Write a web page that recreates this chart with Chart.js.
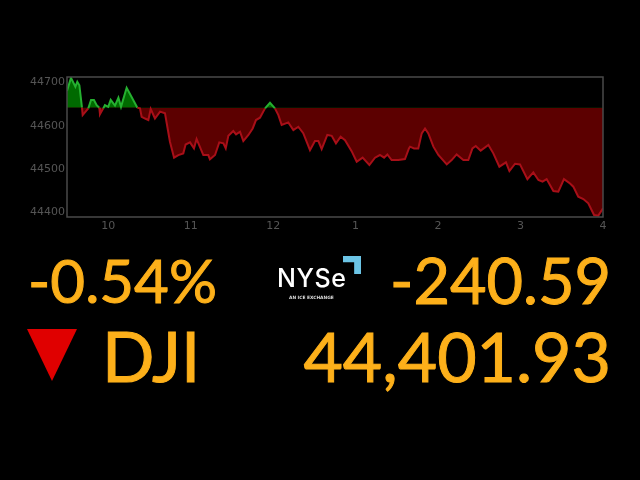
<!DOCTYPE html>
<html lang="en">
<head>
<meta charset="UTF-8">
<title>DJI</title>
<script src="https://cdn.jsdelivr.net/npm/chart.js"></script>
<style>
    html, body { margin: 0; padding: 0; background: #000; overflow: hidden; }
    #wrap { position: relative; width: 640px; height: 480px; }
    canvas { position: absolute; left: 0; top: 0; }
    .big {
        position: absolute;
        font-family: Lato, sans-serif;
        font-weight: 400;
        line-height: 70px;
        color: #fdb01a;
        white-space: nowrap;
        -webkit-text-stroke: 1px #fdb01a;
    }
    #arrow {
        position: absolute; left: 27px; top: 329px; width: 50px; height: 52px;
        background: #e00000;
        clip-path: polygon(0 0, 100% 0, 50% 100%);
    }
    #nyse {
        position: absolute; left: 277px; top: 264px;
        font-family: Inter, sans-serif; font-weight: 500; font-size: 25px; line-height: 28px;
        letter-spacing: 0.6px;
        color: #fff;
    }
    #ice {
        position: absolute; left: 289px; top: 295px;
        font-family: "DejaVu Sans", sans-serif; font-weight: 700; font-size: 4.4px; line-height: 6px;
        color: #ddd;
    }
    #corner { position: absolute; left: 343px; top: 256px; width: 18px; height: 18px;
        background: #6cc5e6;
        clip-path: polygon(0 0, 100% 0, 100% 100%, 62% 100%, 62% 35%, 0 35%);
    }
</style>
</head>
<body>
<div id="wrap">
    <canvas id="chart" width="640" height="480"></canvas>
    <div class="big" id="pct" style="right:423px;top:245px;font-size:60px">-0.54%</div>
    <div class="big" id="chg" style="right:29px;top:245px;font-size:63px">-240.59</div>
    <div class="big" id="sym" style="left:102px;top:321px;font-size:69px">DJI</div>
    <div class="big" id="last" style="right:29px;top:321px;font-size:68px">44,401.93</div>
    <div id="arrow"></div>
    <div id="nyse">NYS<span>e</span></div>
    <div id="ice">AN ICE EXCHANGE</div>
    <div id="corner"></div>
</div>

<script>
// minutes since 9:30 open
const minutes = [
    0, 2.9, 6.1, 7.5, 9, 10.9, 11.4, 15.5, 17.5, 19.6, 21.6, 23.5, 24, 26.4, 27.6, 30, 31.8, 34.9, 37.4, 39.3,
    43.4, 47, 51.2, 53.1, 54.3, 56.8, 59.2, 60.9, 64, 67.7, 71.3, 74.9, 77.9, 81, 84.6, 86.3, 89.5, 92.4, 94.3, 99.2,
    102.8, 104, 107.7, 110.8, 113.8, 115.5, 117.4, 121, 123, 125.9, 128.3, 132, 135.1, 137.5, 140.4, 144.1, 147.7, 151.3, 153.8, 156.2,
    161, 164.7, 168.3, 171.9, 176.8, 180.4, 182.9, 185.3, 189.4, 192.6, 195.7, 199.1, 202.3, 207.1, 210.8, 215.1, 220, 224.1, 227.7, 230.7,
    233.1, 236.2, 241.1, 245.9, 248.8, 249.6, 252.5, 255.6, 258.1, 260.5, 262.9, 266.6, 270.2, 276.3, 279.9, 283.5, 288.4, 292, 295, 297.4,
    301, 306.6, 310.2, 314.6, 319.4, 321.9, 326, 329.6, 335, 339.3, 343, 346, 349, 353.9, 357.5, 361.6, 366, 368.4, 372, 375.7,
    379.3, 383.5, 386.6, 390
];
const prices = [
    44680.5, 44711, 44690.5, 44702, 44694, 44642, 44625, 44640.5, 44660, 44660, 44648, 44642, 44627, 44640.5, 44648, 44644, 44660, 44647, 44665, 44644,
    44688, 44667, 44642, 44640.5, 44621, 44617, 44613.5, 44639, 44617, 44633, 44629, 44563.5, 44526.5, 44532.5, 44536.5, 44557, 44562, 44548, 44569.5, 44532.5,
    44532.5, 44522.6, 44532.7, 44562, 44559.6, 44548, 44577, 44588, 44580.4, 44586.6, 44565, 44578.9, 44594, 44613.5, 44619, 44640.5, 44653.5, 44640.5, 44625, 44602,
    44608, 44590.4, 44598, 44583, 44544, 44565, 44565, 44546.5, 44579, 44577, 44559.6, 44575, 44567, 44541.6, 44517, 44526.5, 44509.5, 44526.5, 44532.7, 44526.5,
    44534, 44521, 44521, 44523.4, 44548, 44552, 44548, 44548, 44582.7, 44594, 44582.7, 44552, 44532.7, 44511, 44521, 44534, 44521, 44521, 44548, 44553.5,
    44542.7, 44555.8, 44536.5, 44505.7, 44515.7, 44495.7, 44512.6, 44511, 44477, 44492.6, 44475, 44471, 44477, 44449.5, 44448, 44477, 44467, 44459.5, 44436.4, 44431,
    44421, 44394, 44392.5, 44409.5
];
const prevClose = 44642;
const yTicks = [44400, 44500, 44600, 44700];
const xTicks = [30, 90, 150, 210, 270, 330, 390];
const xLabels = ['10', '11', '12', '1', '2', '3', '4'];

const tickColor = '#555';
const tickFont = { family: 'DejaVu Sans', size: 11 };

// box round the plot area
const frame = {
    id: 'frame',
    afterDraw(chart) {
        const a = chart.chartArea, c = chart.ctx;
        c.save();
        c.strokeStyle = '#4a4a4a';
        c.lineWidth = 1.5;
        c.strokeRect(a.left, a.top, a.right - a.left, a.bottom - a.top);
        c.restore();
    }
};

new Chart(document.getElementById('chart'), {
    type: 'line',
    data: {
        datasets: [{
            data: minutes.map((m, i) => ({ x: m, y: prices[i] })),
            borderWidth: 2,
            borderColor: '#a80f18',
            pointRadius: 0,
            tension: 0,
            fill: { target: { value: prevClose }, above: '#006a00', below: '#5c0000' },
            segment: {
                borderColor: s => (s.p0.parsed.y + s.p1.parsed.y) / 2 >= prevClose ? '#25b030' : '#a80f18'
            }
        }]
    },
    plugins: [frame],
    options: {
        responsive: false,
        animation: false,
        layout: { padding: { top: 77, right: 37, bottom: 240, left: 0 } },
        plugins: { legend: { display: false }, tooltip: { enabled: false } },
        scales: {
            x: {
                type: 'linear',
                min: 0,
                max: 390,
                grid: { display: false, drawTicks: false },
                border: { display: false },
                afterFit(s) { s.height = 23; },
                afterBuildTicks(s) { s.ticks = xTicks.map(v => ({ value: v })); },
                ticks: {
                    color: tickColor,
                    font: tickFont,
                    maxRotation: 0,
                    autoSkip: false,
                    padding: 3,
                    callback: v => xLabels[xTicks.indexOf(v)]
                }
            },
            y: {
                min: 44389.4,
                max: 44713,
                grid: { display: false, drawTicks: false },
                border: { display: false },
                afterFit(s) { s.width = 67; },
                afterBuildTicks(s) { s.ticks = yTicks.map(v => ({ value: v })); },
                ticks: {
                    color: tickColor,
                    font: tickFont,
                    padding: 2,
                    callback: v => String(v)
                }
            }
        }
    }
});
</script>
</body>
</html>
